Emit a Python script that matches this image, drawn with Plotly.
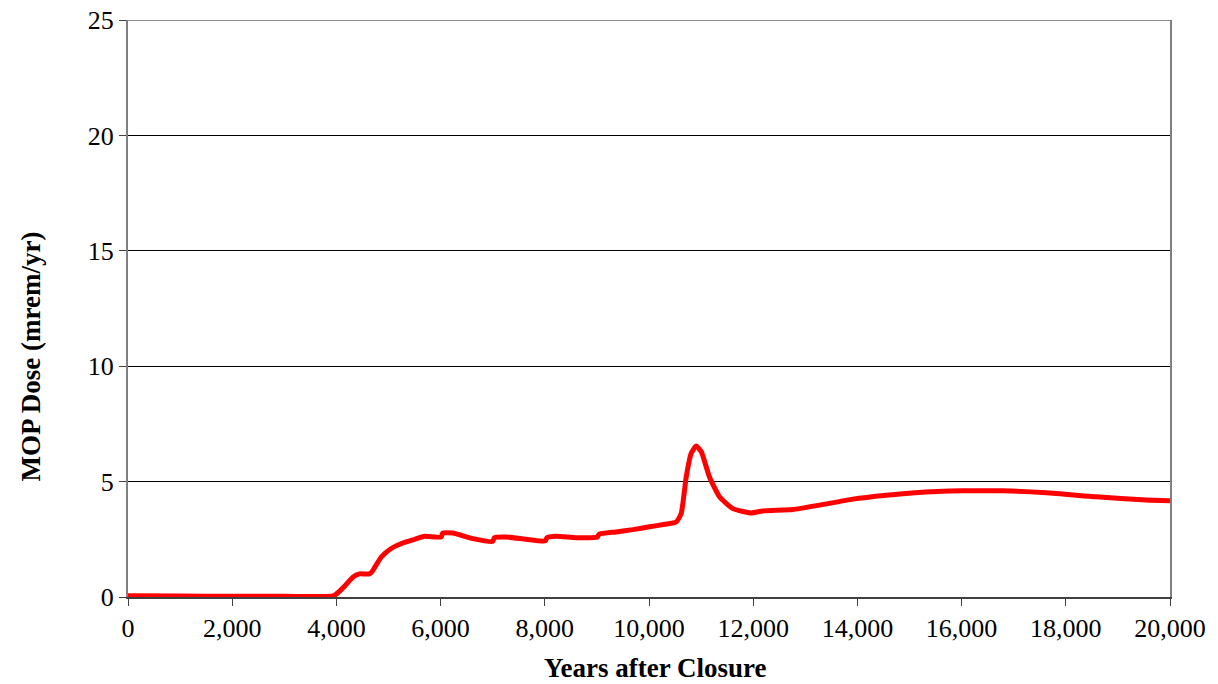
import plotly.graph_objects as go

years = [0, 1000, 2000, 3000, 3900, 3970, 4150, 4315, 4443, 4635, 4700, 4780, 4860, 5052, 5275,
         5500, 5691, 6011, 6040, 6235, 6619, 7002, 7030, 7259, 7643, 8010, 8040, 8219, 8603,
         9010, 9040, 9370, 9690, 10010, 10300, 10522, 10618, 10714, 10810, 10906, 11002, 11161,
         11353, 11609, 11961, 12184, 12760, 13272, 13912, 14553, 15100, 16023, 16790, 17624,
         18583, 19543, 20000]
dose = [0.05, 0.04, 0.03, 0.03, 0.03, 0.08, 0.45, 0.86, 1.0, 1.0, 1.15, 1.45, 1.73, 2.1, 2.34,
        2.5, 2.63, 2.6, 2.77, 2.77, 2.53, 2.41, 2.57, 2.6, 2.5, 2.43, 2.57, 2.63, 2.57,
        2.6, 2.72, 2.82, 2.92, 3.04, 3.15, 3.25, 3.62, 5.2, 6.23, 6.54, 6.3, 5.2,
        4.34, 3.83, 3.64, 3.73, 3.79, 3.98, 4.24, 4.41, 4.52, 4.6, 4.6, 4.52,
        4.34, 4.2, 4.17]

x_ticks = [0, 2000, 4000, 6000, 8000, 10000, 12000, 14000, 16000, 18000, 20000]
x_tick_labels = ["0", "2,000", "4,000", "6,000", "8,000", "10,000", "12,000", "14,000",
                 "16,000", "18,000", "20,000"]
y_ticks = [0, 5, 10, 15, 20, 25]

x_title = "Years after Closure"
y_title = "MOP Dose (mrem/yr)"

font_family = "Liberation Serif, Times New Roman, serif"

fig = go.Figure()
fig.add_trace(go.Scatter(x=years, y=dose, mode="lines",
                         line=dict(color="#FF0000", width=5, shape="spline", smoothing=0.5),
                         hoverinfo="skip"))

fig.update_layout(
    width=1218, height=684,
    margin=dict(l=128, r=48, t=20, b=87),
    paper_bgcolor="white", plot_bgcolor="white",
    showlegend=False,
    font=dict(family=font_family, size=26, color="black"),
    xaxis=dict(
        range=[0, 20000], tickvals=x_ticks, ticktext=x_tick_labels,
        showgrid=False, zeroline=False, automargin=False,
        showline=True, linecolor="#404040", linewidth=2,
        ticks="outside", ticklen=7, tickcolor="#404040", tickwidth=1,
        tickfont=dict(size=26),
    ),
    yaxis=dict(
        range=[0, 25], tickvals=y_ticks,
        showgrid=True, gridcolor="black", gridwidth=1,
        zeroline=False, automargin=False,
        showline=True, linecolor="#7f7f7f", linewidth=2, mirror=True,
        ticks="outside", ticklen=7, tickcolor="#404040", tickwidth=1,
        tickfont=dict(size=26),
    ),
    shapes=[dict(type="line", xref="paper", yref="y", x0=0, x1=1, y0=25, y1=25,
                 line=dict(color="#8c8c8c", width=2))],
    annotations=[
        dict(text="<b>" + x_title + "</b>", xref="paper", yref="paper",
             x=0.5055, y=-0.123, xanchor="center", yanchor="middle",
             showarrow=False, font=dict(size=27)),
        dict(text="<b>" + y_title + "</b>", xref="paper", yref="paper",
             x=-0.0935, y=0.416, xanchor="center", yanchor="middle", textangle=-90,
             showarrow=False, font=dict(size=27)),
    ],
)

fig.write_html("out.html")
